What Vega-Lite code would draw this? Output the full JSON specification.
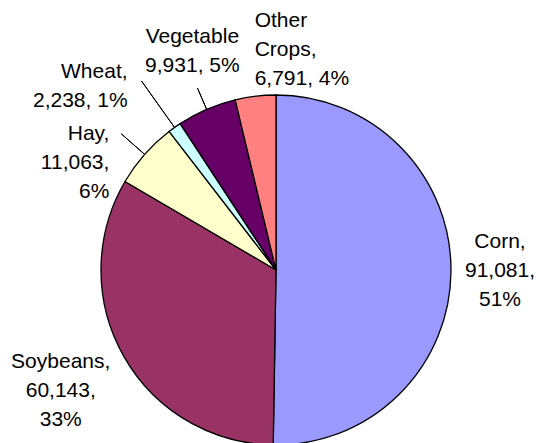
{
  "$schema": "https://vega.github.io/schema/vega-lite/v6.json",
  "width": 520,
  "height": 346,
  "autosize": {"type": "none"},
  "padding": {"left": 16, "top": 97, "right": 0, "bottom": 0},
  "background": "white",
  "config": {
    "view": {"stroke": null},
    "text": {"font": "Liberation Sans", "fontSize": 21, "lineHeight": 29, "lineBreak": "\n", "color": "black"}
  },
  "data": {
    "values": [
      {"crop": "Corn", "value": 91081, "i": 1, "label": "Corn,\n91,081,\n51%"},
      {"crop": "Soybeans", "value": 60143, "i": 2, "label": "Soybeans,\n60,143,\n33%"},
      {"crop": "Hay", "value": 11063, "i": 3, "label": "Hay,\n11,063,\n6%"},
      {"crop": "Wheat", "value": 2238, "i": 4, "label": "Wheat,\n2,238, 1%"},
      {"crop": "Vegetable", "value": 9931, "i": 5, "label": "Vegetable\n9,931, 5%"},
      {"crop": "Other Crops", "value": 6791, "i": 6, "label": "Other\nCrops,\n6,791, 4%"}
    ]
  },
  "encoding": {
    "theta": {"field": "value", "type": "quantitative", "stack": true},
    "order": {"field": "i", "type": "quantitative"},
    "detail": {"field": "crop", "type": "nominal"}
  },
  "layer": [
    {
      "mark": {"type": "arc", "outerRadius": 175, "stroke": "black", "strokeWidth": 1.3},
      "encoding": {
        "color": {
          "field": "crop", "type": "nominal", "legend": null,
          "scale": {
            "domain": ["Corn", "Soybeans", "Hay", "Wheat", "Vegetable", "Other Crops"],
            "range": ["#9999FF", "#993366", "#FFFFCC", "#CCFFFF", "#660066", "#FF8080"]
          }
        }
      }
    },
    {
      "mark": {"type": "arc", "padAngle": 3.14, "fillOpacity": 0, "stroke": "black", "strokeWidth": 1},
      "encoding": {
        "radius": {"value": 206}, "radius2": {"value": 175},
        "strokeOpacity": {"condition": {"test": "datum.crop === 'Hay'", "value": 1}, "value": 0}
      }
    },
    {
      "mark": {"type": "arc", "padAngle": 3.14, "fillOpacity": 0, "stroke": "black", "strokeWidth": 1},
      "encoding": {
        "radius": {"value": 232}, "radius2": {"value": 175},
        "strokeOpacity": {"condition": {"test": "datum.crop === 'Wheat'", "value": 1}, "value": 0}
      }
    },
    {
      "mark": {"type": "arc", "padAngle": 3.14, "fillOpacity": 0, "stroke": "black", "strokeWidth": 1},
      "encoding": {
        "radius": {"value": 198}, "radius2": {"value": 175},
        "strokeOpacity": {"condition": {"test": "datum.crop === 'Vegetable'", "value": 1}, "value": 0}
      }
    },
    {
      "mark": {"type": "text", "align": "center", "baseline": "middle", "dy": -30},
      "encoding": {
        "radius": {"value": 224},
        "text": {"condition": {"test": "datum.crop === 'Corn'", "field": "label", "type": "nominal"}, "value": ""}
      }
    },
    {
      "mark": {"type": "text", "align": "center", "baseline": "middle", "dy": -29},
      "encoding": {
        "radius": {"value": 247},
        "text": {"condition": {"test": "datum.crop === 'Soybeans'", "field": "label", "type": "nominal"}, "value": ""}
      }
    },
    {
      "mark": {"type": "text", "align": "right", "baseline": "top"},
      "encoding": {
        "radius": {"value": 222},
        "text": {"condition": {"test": "datum.crop === 'Hay'", "field": "label", "type": "nominal"}, "value": ""}
      }
    },
    {
      "mark": {"type": "text", "align": "right", "baseline": "top"},
      "encoding": {
        "radius": {"value": 256},
        "text": {"condition": {"test": "datum.crop === 'Wheat'", "field": "label", "type": "nominal"}, "value": ""}
      }
    },
    {
      "mark": {"type": "text", "align": "center", "baseline": "bottom", "dy": -29},
      "encoding": {
        "radius": {"value": 211},
        "text": {"condition": {"test": "datum.crop === 'Vegetable'", "field": "label", "type": "nominal"}, "value": ""}
      }
    },
    {
      "mark": {"type": "text", "align": "left", "baseline": "bottom", "dy": -58},
      "encoding": {
        "radius": {"value": 182},
        "text": {"condition": {"test": "datum.crop === 'Other Crops'", "field": "label", "type": "nominal"}, "value": ""}
      }
    }
  ]
}
